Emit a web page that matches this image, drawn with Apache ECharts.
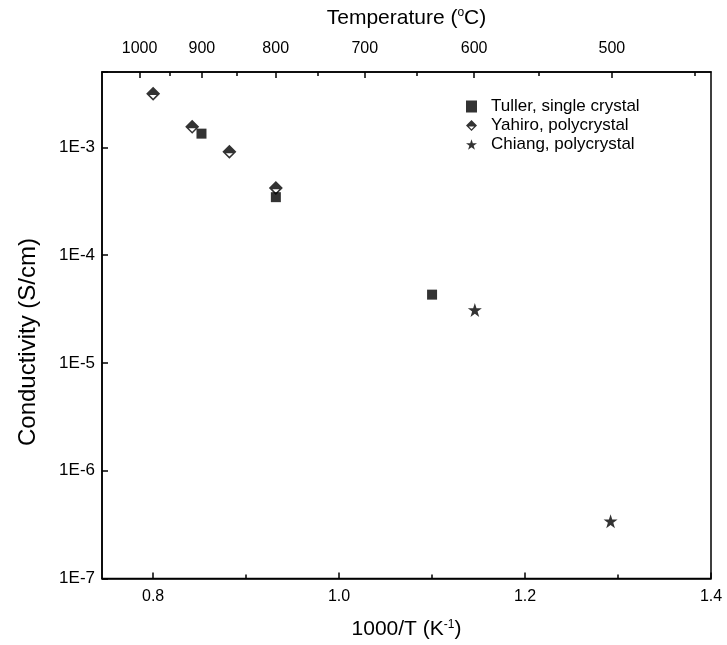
<!DOCTYPE html>
<html>
<head>
<meta charset="utf-8">
<script src="https://cdn.jsdelivr.net/npm/echarts@6/dist/echarts.min.js"></script>
<style>html,body{margin:0;padding:0;background:#fff;}#c{width:727px;height:645px;}</style>
</head>
<body>
<div id="c"></div>
<script>
// ---- data ----
const seriesNames = ['Tuller, single crystal', 'Yahiro, polycrystal', 'Chiang, polycrystal'];
const tullerX = [0.852, 0.932, 1.10];
const tullerY = [1.34e-3, 3.45e-4, 4.3e-5];
const yahiroX = [0.80, 0.842, 0.882, 0.932];
const yahiroY = [3.15e-3, 1.55e-3, 9.1e-4, 4.2e-4];
const chiangX = [1.146, 1.292];
const chiangY = [3.1e-5, 3.4e-7];
const bottomTicks = [0.8, 1.0, 1.2, 1.4];
const bottomMinorTicks = [0.9, 1.1, 1.3];
const tempLabels = [1000, 900, 800, 700, 600, 500];
const tempMinor = [950, 850, 750, 650, 550, 450];

const FONT = 'Arial, "Liberation Sans", sans-serif';
const toInv = t => 1000 / (t + 273.15);
const zip = (xs, ys) => xs.map((x, i) => [x, ys[i]]);
const halfDiamond = 'path://M0 10L10 0L20 10ZM0 10L20 10L10 20ZM5.1 12L10 16.9L14.9 12Z';
const star = 'path://M10 0L12.35 7.1L19.8 7.1L13.8 11.5L16.1 18.6L10 14.2L3.9 18.6L6.2 11.5L0.2 7.1L7.65 7.1Z';

const xMin = 0.745, xMax = 1.4;
const chart = echarts.init(document.getElementById('c'), null, {renderer: 'canvas'});
const lineStyle = {color: '#000', width: 1.5};
const supRich = {sup: {fontSize: 12, verticalAlign: 'top', padding: [0, 0, 10, 0], fontFamily: FONT, color: '#000'}};
chart.setOption({
  animation: false,
  backgroundColor: '#fff',
  grid: {left: 102, right: 16, top: 72, bottom: 45, show: true, borderColor: '#000', borderWidth: 1.5, backgroundColor: 'transparent'},
  legend: {
    orient: 'vertical', left: 461, top: 93, itemWidth: 11, itemHeight: 12, itemGap: 2,
    textStyle: {fontFamily: FONT, fontSize: 17, lineHeight: 16, color: '#000', padding: [0, 0, 0, 9]},
    data: seriesNames
  },
  graphic: [{
    type: 'text', x: 28, y: 342, rotation: Math.PI / 2,
    style: {text: 'Conductivity (S/cm)', font: '24px ' + FONT, fill: '#000', align: 'center', verticalAlign: 'middle'}
  }],
  xAxis: [
    {
      type: 'value', position: 'bottom', min: xMin, max: xMax,
      name: '1000/T (K{sup|-1})', nameLocation: 'middle', nameGap: 40,
      nameTextStyle: {fontFamily: FONT, fontSize: 21, color: '#000', rich: supRich},
      axisLine: {show: true, lineStyle},
      axisTick: {show: true, inside: true, length: 6, customValues: bottomTicks, lineStyle},
      axisLabel: {customValues: bottomTicks, margin: 10, fontFamily: FONT, fontSize: 16, color: '#000', formatter: v => v.toFixed(1)},
      splitLine: {show: false}
    },
    {
      type: 'value', position: 'bottom', min: xMin, max: xMax,
      axisLine: {show: false},
      axisTick: {show: true, inside: true, length: 4, customValues: bottomMinorTicks, lineStyle},
      axisLabel: {show: false}, splitLine: {show: false}
    },
    {
      type: 'value', position: 'top', min: xMin, max: xMax,
      name: 'Temperature ({sup|o}C)', nameLocation: 'middle', nameGap: 43,
      nameTextStyle: {fontFamily: FONT, fontSize: 21, color: '#000', rich: supRich},
      axisLine: {show: true, lineStyle},
      axisTick: {show: true, inside: true, length: 6, customValues: tempLabels.map(toInv), lineStyle},
      axisLabel: {customValues: tempLabels.map(toInv), margin: 15, fontFamily: FONT, fontSize: 16, color: '#000',
        formatter: v => String(Math.round(1000 / v - 273.15))},
      splitLine: {show: false}
    },
    {
      type: 'value', position: 'top', min: xMin, max: xMax,
      axisLine: {show: false},
      axisTick: {show: true, inside: true, length: 4, customValues: tempMinor.map(toInv), lineStyle},
      axisLabel: {show: false}, splitLine: {show: false}
    }
  ],
  yAxis: {
    type: 'log', logBase: 10, min: 1e-7, max: 5e-3,
    axisLine: {show: true, lineStyle},
    axisTick: {show: true, inside: true, length: 6, lineStyle},
    axisLabel: {margin: 7, fontFamily: FONT, fontSize: 17, color: '#000',
      formatter: v => {
        const l = Math.log10(v), e = Math.round(l);
        if (Math.abs(l - e) > 1e-6) return '';
        return '1E' + e;
      }},
    splitLine: {show: false}
  },
  series: [
    {name: seriesNames[0], type: 'scatter', symbol: 'rect', symbolSize: 10,
     itemStyle: {color: '#000'}, data: zip(tullerX, tullerY)},
    {name: seriesNames[1], type: 'scatter', symbol: halfDiamond, symbolSize: 14,
     itemStyle: {color: '#000'}, data: zip(yahiroX, yahiroY)},
    {name: seriesNames[2], type: 'scatter', symbol: star, symbolSize: 14,
     itemStyle: {color: '#000'}, data: zip(chiangX, chiangY)}
  ]
});
</script>
</body>
</html>
